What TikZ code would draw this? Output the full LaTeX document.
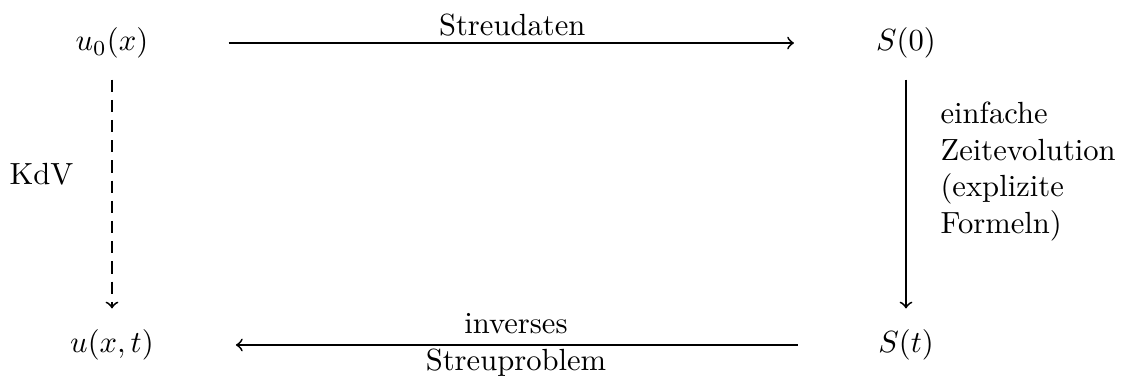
\documentclass[tikz,border=0pt]{standalone}
\usepackage{amsmath}
\usetikzlibrary{positioning}

\begin{document}
\begin{tikzpicture}[
  node distance=3.468cm and 9.119cm, on grid,
  arr/.style={->, semithick},
  hor/.style={arr, shorten <=0.8cm, shorten >=0.82cm},
  ver/.style={arr, shorten <=0.12cm, shorten >=0.12cm},
  lbl/.style={align=left, inner sep=2pt}]
  \useasboundingbox (0,0) rectangle (12.92,4.33);
  \node (u0) at (1.286,3.836) {$u_0(x)$};
  \node[right=of u0] (s0) {$S(0)$};
  \node[below=of u0] (u) {$u(x,t)$};
  \node[below=of s0] (st) {$S(t)$};
  \draw[hor] (u0) -- node[above, inner sep=2pt] {Streudaten} (s0);
  \draw[ver] (s0) -- node[lbl, right, pos=0.41, xshift=9pt] {einfache\\Zeitevolution\\(explizite\\Formeln)} (st);
  \draw[hor] (st) -- node[align=center] {inverses\\Streuproblem} (u);
  \draw[ver, dash pattern=on 4pt off 2.6pt] (u0) -- node[left, pos=0.42, xshift=-9pt] {KdV} (u);
\end{tikzpicture}
\end{document}
